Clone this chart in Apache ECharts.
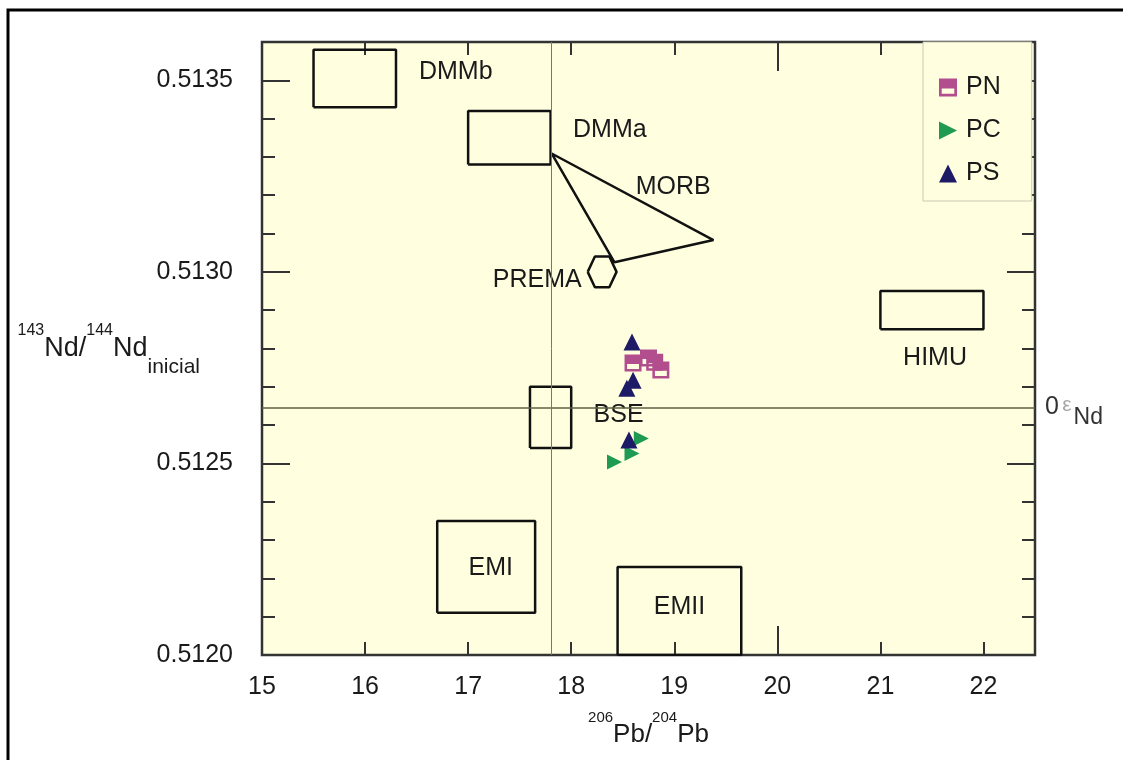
<!DOCTYPE html>
<html><head><meta charset="utf-8">
<script src="https://cdn.jsdelivr.net/npm/echarts@6/dist/echarts.min.js"></script>
<style>html,body{margin:0;padding:0;background:#fff}#chart{width:1123px;height:760px}</style>
</head><body><div id="chart"></div>
<script>
// ---- data ----
const xRange = [15, 22.5];
const yRange = [0.5120, 0.5136];
const seriesNames = ['PN', 'PC', 'PS'];
const pnPoints = [[18.60, 0.512762], [18.75, 0.512775], [18.81, 0.512764], [18.87, 0.512744]];
const pcPoints = [[18.68, 0.512565], [18.59, 0.512526], [18.42, 0.512504]];
const psPoints = [[18.59, 0.512817], [18.60, 0.512717], [18.54, 0.512696], [18.56, 0.512561]];
// reservoir boxes: name, [xmin, xmax], [ymin, ymax]
const boxNames = ['DMMb', 'DMMa', 'BSE', 'EMI', 'EMII', 'HIMU'];
const boxX = [[15.5, 16.3], [17.0, 17.8], [17.6, 18.0], [16.7, 17.65], [18.45, 19.65], [21.0, 22.0]];
const boxY = [[0.51343, 0.51358], [0.51328, 0.51342], [0.51254, 0.51270], [0.51211, 0.51235], [0.5120, 0.51223], [0.51285, 0.51295]];
const morbPolygon = [[17.81, 0.513309], [19.38, 0.513083], [18.42, 0.513025], [17.81, 0.513309]];
const premaHexagon = [[18.16, 0.51300], [18.23, 0.51304], [18.37, 0.51304], [18.44, 0.51300], [18.37, 0.51296], [18.23, 0.51296], [18.16, 0.51300]];
const labelNames = ['DMMb', 'DMMa', 'MORB', 'PREMA', 'BSE', 'HIMU', 'EMI', 'EMII'];
const labelX = [16.88, 18.375, 18.99, 17.67, 18.46, 21.53, 17.22, 19.05];
const labelY = [0.513521, 0.51337, 0.513221, 0.512978, 0.512626, 0.512775, 0.512227, 0.512125];
const chondriteNd = 0.512646;   // 0 εNd line
const verticalRef = 17.81;       // vertical reference line (206Pb/204Pb)

// ---- styles ----
const FONT = 'Liberation Sans, Arial, sans-serif';
const TXT = '#1a1a1a';
const BG = '#FFFFE0';

const shapeStyle = { color: '#111', width: 2.5 };
function shapeSeries(name, pts) {
  return {
    name: name, type: 'line', data: pts, symbol: 'none', silent: true,
    lineStyle: shapeStyle, animation: false, z: 3
  };
}
const shapeList = boxNames.map((n, i) => {
  const [x0, x1] = boxX[i], [y0, y1] = boxY[i];
  return shapeSeries('box_' + n, [[x0, y0], [x1, y0], [x1, y1], [x0, y1], [x0, y0]]);
});
shapeList.push(shapeSeries('MORB_poly', morbPolygon));
shapeList.push(shapeSeries('PREMA_hex', premaHexagon));

const pnSymbol = 'path://M0,0H20V20H0Z M3,11V17H17V11Z';
const pcSymbol = 'path://M0,0L20,10L0,20Z';

function axisBase(extra) {
  return Object.assign({
    type: 'value', axisLine: { show: false }, splitLine: { show: false },
    axisLabel: { show: false },
    axisTick: { show: true, inside: true, length: 13, lineStyle: { color: '#333', width: 2 } }
  }, extra);
}

const option = {
  backgroundColor: '#fff',
  animation: false,
  grid: { left: 262, right: 88, top: 42, bottom: 105, outerBoundsMode: 'none', containLabel: false,
    show: true, backgroundColor: BG, borderColor: '#333', borderWidth: 2.5 },
  graphic: [{ type: 'rect', shape: { x: 8, y: 10, width: 1300, height: 900 }, style: { fill: 'none', stroke: '#000', lineWidth: 3 }, silent: true, z: 100 }],
  xAxis: [
    axisBase({
      min: xRange[0], max: xRange[1], interval: 1, position: 'bottom',
      axisLabel: { show: true, showMaxLabel: false, margin: 20, fontSize: 25, color: TXT, fontFamily: FONT },
      name: '{sup|206}{m|Pb/}{sup|204}{m|Pb}', nameLocation: 'middle', nameGap: 55, nameMoveOverlap: false,
      nameTextStyle: { rich: {
        m: { fontSize: 26, color: TXT, fontFamily: FONT },
        sup: { fontSize: 15, color: TXT, fontFamily: FONT, padding: [0, 0, 34, 0] }
      } }
    }),
    axisBase({ min: xRange[0], max: xRange[1], interval: 1, position: 'top' }),
    axisBase({ min: xRange[0], max: xRange[1], interval: 5, position: 'bottom', axisTick: { show: true, inside: true, length: 29, lineStyle: { color: '#333', width: 2 } } }),
    axisBase({ min: xRange[0], max: xRange[1], interval: 5, position: 'top', axisTick: { show: true, inside: true, length: 29, lineStyle: { color: '#333', width: 2 } } })
  ],
  yAxis: [
    axisBase({
      min: yRange[0], max: yRange[1], interval: 0.0005, position: 'left',
      axisTick: { show: true, inside: true, length: 28, lineStyle: { color: '#333', width: 2 } },
      axisLabel: { show: true, showMaxLabel: false, margin: 29, fontSize: 25, color: TXT, fontFamily: FONT, formatter: v => v.toFixed(4) },
      name: '{sup|143}{m|Nd/}{sup|144}{m|Nd}{sub|inicial}', nameLocation: 'middle', nameRotate: 0, nameGap: 62, nameMoveOverlap: false,
      nameTextStyle: { align: 'right', rich: {
        m: { fontSize: 27, color: TXT, fontFamily: FONT },
        sup: { fontSize: 16, color: TXT, fontFamily: FONT, padding: [0, 0, 36, 0] },
        sub: { fontSize: 21, color: TXT, fontFamily: FONT, padding: [38, 0, 0, 0] }
      } }
    }),
    axisBase({ min: yRange[0], max: yRange[1], interval: 0.0001, position: 'left' }),
    axisBase({ min: yRange[0], max: yRange[1], interval: 0.0005, position: 'right', axisTick: { show: true, inside: true, length: 28, lineStyle: { color: '#333', width: 2 } } }),
    axisBase({ min: yRange[0], max: yRange[1], interval: 0.0001, position: 'right' })
  ],
  legend: {
    data: seriesNames, orient: 'vertical', left: 923, top: 42,
    padding: [33, 31, 15, 16], itemGap: 18, itemWidth: 18, itemHeight: 18,
    borderColor: '#c9c9b5', borderWidth: 1, backgroundColor: BG,
    textStyle: { fontSize: 25, color: TXT, fontFamily: FONT, padding: [0, 0, 0, 4] }
  },
  series: [
    ...shapeList,
    {
      name: 'labels', type: 'scatter', silent: true, symbolSize: 1, z: 4, clip: false,
      itemStyle: { color: 'rgba(0,0,0,0)', opacity: 1 },
      data: labelNames.map((n, i) => ({ name: n, value: [labelX[i], labelY[i]] })),
      label: { show: true, position: 'inside', formatter: '{b}', fontSize: 25, color: TXT, fontFamily: FONT },
      markLine: {
        silent: true, symbol: ['none', 'none'], animation: false, precision: 8,
        data: [
          { yAxis: chondriteNd, lineStyle: { color: '#5f5f45', width: 1.5, type: 'solid', opacity: 1 },
            label: { show: true, position: 'end', distance: 10, formatter: '{a|0} {e|ε}{s|Nd}',
              rich: {
                a: { fontSize: 25, color: '#333', fontFamily: FONT },
                e: { fontSize: 21, color: '#a8a8a8', fontFamily: FONT, padding: [0, 2, 4, 0] },
                s: { fontSize: 23, color: '#333', fontFamily: FONT, padding: [20, 0, 0, 0] }
              } } },
          { xAxis: verticalRef, lineStyle: { color: '#7a7a62', width: 1, type: 'solid', opacity: 1 }, label: { show: false } }
        ]
      }
    },
    { name: 'PN', type: 'scatter', data: pnPoints, symbol: pnSymbol, symbolSize: 17, z: 5,
      itemStyle: { color: '#b24e8e', opacity: 1 } },
    { name: 'PC', type: 'scatter', data: pcPoints, symbol: pcSymbol, symbolSize: 15, z: 6,
      itemStyle: { color: '#1e9a52', opacity: 1 } },
    { name: 'PS', type: 'scatter', data: psPoints, symbol: 'triangle', symbolSize: 17, z: 7,
      itemStyle: { color: '#1d1a66', opacity: 1 } }
  ]
};

const chart = echarts.init(document.getElementById('chart'));
chart.setOption(option);
</script>
</body></html>
